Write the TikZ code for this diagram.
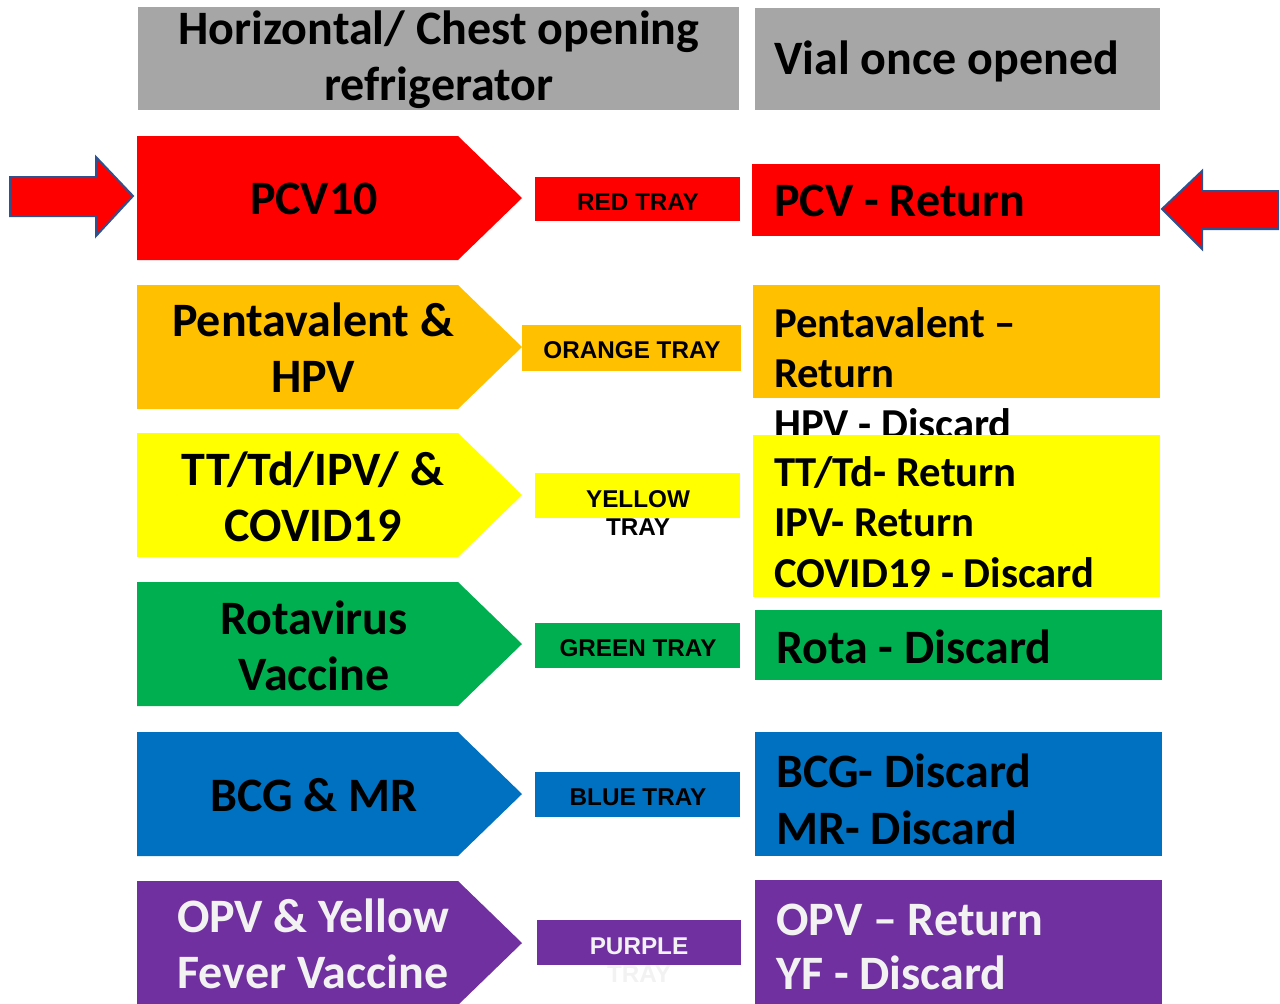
\documentclass[tikz,border=0pt]{standalone}
\usepackage{fontspec}
\setmainfont{Carlito}
\newfontfamily\trayfont{Liberation Sans}
\usepackage{tikz}
\usetikzlibrary{positioning}
\definecolor{cRed}{HTML}{FF0000}
\definecolor{cOrange}{HTML}{FFC000}
\definecolor{cYellow}{HTML}{FFFF00}
\definecolor{cGreen}{HTML}{00B050}
\definecolor{cBlue}{HTML}{0070C0}
\definecolor{cPurple}{HTML}{7030A0}
\definecolor{cGray}{HTML}{A6A6A6}
\definecolor{cLine}{HTML}{2F528F}
\definecolor{cWhite}{HTML}{F2F2F2}
% pentagon tag at top y=#2
\newcommand{\tagshape}[2]{\fill[#1] (137,#2) -- ++(321,0) -- ++(64,62) -- ++(-64,62) -- ++(-321,0) -- cycle;}

\begin{document}
\begin{tikzpicture}[x=0.75pt,y=-0.75pt,
  tag/.style={font=\bfseries\fontsize{36}{42}\selectfont,align=center,inner sep=0pt,text=#1},tag/.default=black,
  res/.style={font=\bfseries\fontsize{36}{43}\selectfont,align=left,anchor=west,inner sep=0pt,text=#1},res/.default=black,
  small/.style={font=\bfseries\fontsize{32}{38}\selectfont},
  tray/.style={font=\trayfont\bfseries\fontsize{18.2}{21}\selectfont,align=center,inner sep=0pt,text=#1},tray/.default=black,
  blk/.style={fill=cRed,draw=cLine,line width=1.5pt,line join=miter}]
  \useasboundingbox (0,0) rectangle (1280,1003);
  % headers
  \fill[cGray] (138,7) rectangle (739,110);
  \node[tag] (hleft) at (439,60) {Horizontal/ Chest opening\\refrigerator};
  \fill[cGray] (755,8) rectangle (1160,110);
  \node[res] (hright) at (774,61) {Vial once opened};
  % row 1
  \tagshape{cRed}{136}
  \node[tag] (pcv) at (314,199) {PCV10};
  \fill[cRed] (535,177) rectangle (740,221);
  \node[tray] (tred) at (638,202) {RED TRAY};
  \fill[cRed] (752,164) rectangle (1160,236);
  \node[res] (rpcv) at (774,201) {PCV - Return};
  \draw[blk] (10,177) -- (96,177) -- (96,157) -- (133,196) -- (96,236) -- (96,216) -- (10,216) -- cycle;
  \draw[blk] (1278,191) -- (1202,191) -- (1202,171) -- (1162,209) -- (1202,249) -- (1202,229) -- (1278,229) -- cycle;
  % row 2
  \tagshape{cOrange}{285}
  \node[tag] (penta) at (313,348) {Pentavalent \&\\HPV};
  \fill[cOrange] (522,325) rectangle (741,371);
  \node[tray] (torange) at (632,350) {ORANGE TRAY};
  \fill[cOrange] (753,285) rectangle (1160,398);
  \node[res,small] (rpenta) at (774,373) {Pentavalent –\\Return\\HPV - Discard};
  % row 3
  \tagshape{cYellow}{433}
  \node[tag] (tt) at (313,497) {TT/Td/IPV/ \&\\COVID19};
  \fill[cYellow] (535,473) rectangle (740,518);
  \node[tray] (tyellow) at (638,513) {YELLOW\\TRAY};
  \fill[cYellow] (753,435) rectangle (1160,597);
  \node[res,small] (rtt) at (774,522) {TT/Td- Return\\IPV- Return\\COVID19 - Discard};
  % row 4
  \tagshape{cGreen}{582}
  \node[tag] (rota) at (314,646) {Rotavirus\\Vaccine};
  \fill[cGreen] (535,623) rectangle (740,668);
  \node[tray] (tgreen) at (638,648) {GREEN TRAY};
  \fill[cGreen] (755,610) rectangle (1162,680);
  \node[res] (rrota) at (776,647) {Rota - Discard};
  % row 5
  \tagshape{cBlue}{732}
  \node[tag] (bcg) at (314,795) {BCG \& MR};
  \fill[cBlue] (535,772) rectangle (740,817);
  \node[tray] (tblue) at (638,797) {BLUE TRAY};
  \fill[cBlue] (755,732) rectangle (1162,856);
  \node[res] (rbcg) at (776,799) {BCG- Discard\\MR- Discard};
  % row 6
  \tagshape{cPurple}{881}
  \node[tag=cWhite] (opv) at (313,944) {OPV \& Yellow\\Fever Vaccine};
  \fill[cPurple] (537,920) rectangle (741,965);
  \node[tray=cWhite] (tpurple) at (639,960) {PURPLE\\TRAY};
  \fill[cPurple] (755,880) rectangle (1162,1010);
  \node[res=cWhite,font=\bfseries\fontsize{36}{41}\selectfont] (ropv) at (776,947) {OPV – Return\\YF - Discard};
\end{tikzpicture}
\end{document}
